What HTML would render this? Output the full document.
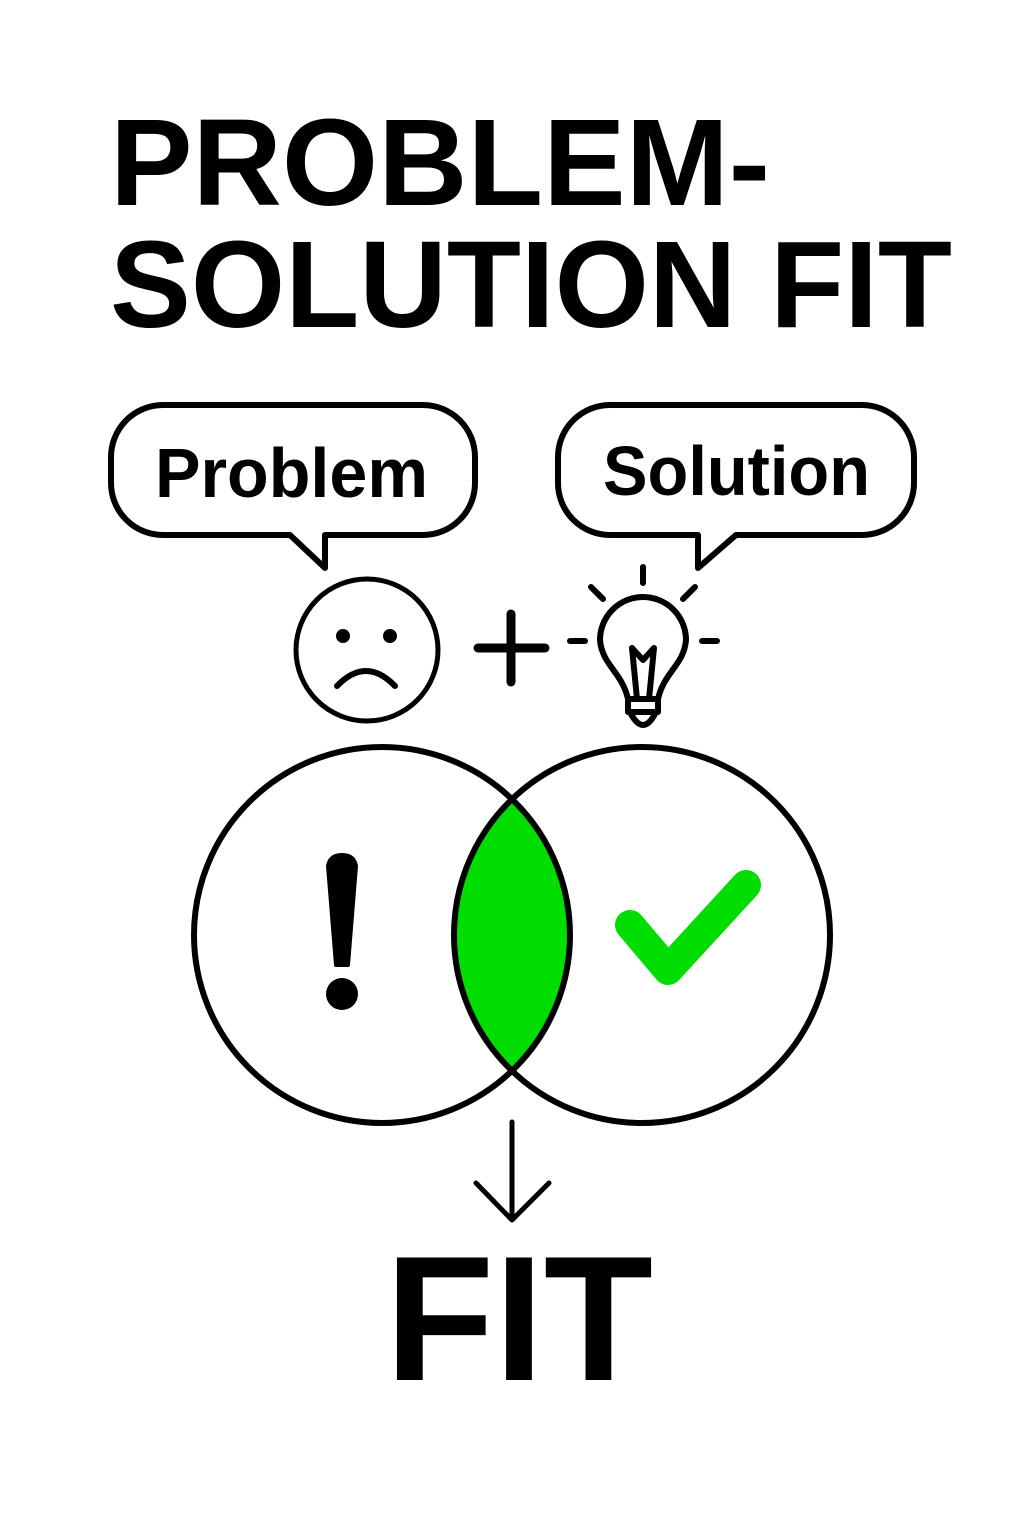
<!DOCTYPE html>
<html><head><style>html,body{margin:0;padding:0;background:#fff}svg{display:block}</style></head>
<body>
<svg width="1024" height="1536" viewBox="0 0 1024 1536" xmlns="http://www.w3.org/2000/svg" font-family="Liberation Sans, sans-serif" font-weight="bold">
<rect width="1024" height="1536" fill="#fff"/>
<text x="110" y="205" font-size="123" textLength="660" lengthAdjust="spacingAndGlyphs">PROBLEM-</text>
<text x="110" y="327" font-size="123" textLength="842" lengthAdjust="spacingAndGlyphs">SOLUTION FIT</text>
<!-- bubbles -->
<path d="M163,405 H423 A52,52 0 0 1 475,457 V483 A52,52 0 0 1 423,535 H325 V568 L290,535 H163 A52,52 0 0 1 111,483 V457 A52,52 0 0 1 163,405 Z" fill="#fff" stroke="#000" stroke-width="6" stroke-linejoin="round"/>
<text x="155" y="497" font-size="70" textLength="273" lengthAdjust="spacingAndGlyphs">Problem</text>
<path d="M610,405 H862 A52,52 0 0 1 914,457 V483 A52,52 0 0 1 862,535 H736 L698,568 V535 H610 A52,52 0 0 1 558,483 V457 A52,52 0 0 1 610,405 Z" fill="#fff" stroke="#000" stroke-width="6" stroke-linejoin="round"/>
<text x="603" y="495" font-size="70" textLength="267" lengthAdjust="spacingAndGlyphs">Solution</text>
<!-- sad face -->
<circle cx="367" cy="650" r="71" fill="none" stroke="#000" stroke-width="5"/>
<circle cx="343" cy="636" r="7"/><circle cx="390" cy="636" r="7"/>
<path d="M337,686 Q366,656 395,686" fill="none" stroke="#000" stroke-width="6" stroke-linecap="round"/>
<!-- plus -->
<path d="M478,648 H545 M511,614 V682" stroke="#000" stroke-width="9" stroke-linecap="round"/>
<!-- bulb -->
<g fill="none" stroke="#000" stroke-width="6" stroke-linecap="round" stroke-linejoin="round">
<path d="M643,567 V583 M591,587 L603,599 M695,587 L683,599 M570,641 H585 M702,641 H717"/>
<path d="M628,699 C622,672 602,665 600,640 A43,43 0 1 1 686,640 C684,665 664,672 658,699 Z"/>
<path d="M632,648 L637,699 M654,648 L649,699 M632,648 L643,660 L654,648"/>
<path d="M628,699 H658 V712 H628 Z M630,712 Q643,738 656,712"/>
</g>
<!-- venn -->
<clipPath id="cl"><circle cx="382" cy="935" r="188"/></clipPath>
<circle cx="642" cy="935" r="188" fill="#00dd00" clip-path="url(#cl)"/>
<circle cx="382" cy="935" r="188" fill="none" stroke="#000" stroke-width="6"/>
<circle cx="642" cy="935" r="188" fill="none" stroke="#000" stroke-width="6"/>
<path d="M328,866 Q330,855 342,855 Q354,855 356,866 L348,965 H336 Z" fill="#000" stroke="#000" stroke-width="4" stroke-linejoin="round"/>
<circle cx="342" cy="994" r="16"/>
<path d="M630,925 L668,970 L746,885" fill="none" stroke="#00dd00" stroke-width="30" stroke-linecap="round" stroke-linejoin="round"/>
<!-- arrow -->
<path d="M512,1122 V1220 M476,1183 L512,1220 L549,1183" fill="none" stroke="#000" stroke-width="5" stroke-linecap="round" stroke-linejoin="round"/>
<text x="385" y="1380" font-size="178" textLength="268" lengthAdjust="spacingAndGlyphs">FIT</text>
</svg>
</body></html>
